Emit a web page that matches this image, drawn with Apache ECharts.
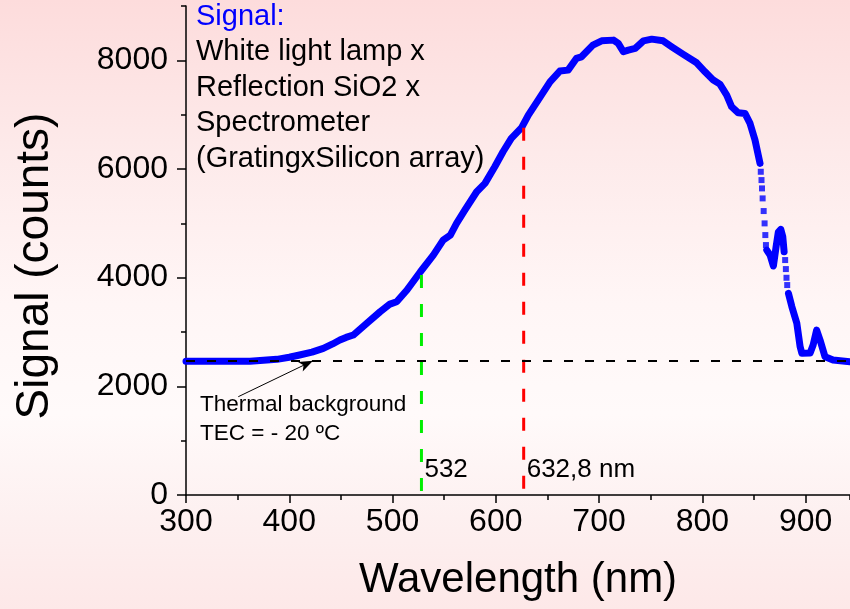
<!DOCTYPE html>
<html>
<head>
<meta charset="utf-8">
<script src="https://cdn.jsdelivr.net/npm/echarts@6/dist/echarts.min.js"></script>
<style>
  html, body { margin: 0; padding: 0; }
  #chart {
    width: 850px; height: 609px;
    background: linear-gradient(to bottom, #fddcdc 0%, #fdeaea 25%, #fff6f6 50%, #fffafa 68%, #fdf0f0 85%, #fde8e8 100%);
  }
</style>
</head>
<body>
<div id="chart"></div>
<script>
// ---- data ----
const wavelength = [300, 330, 362, 388, 400, 410, 422, 433, 442, 449, 455, 462, 475, 488, 497.5, 504, 514, 527, 539.5, 549, 556, 562, 570, 581.5, 589.5, 599, 607, 615, 625, 631.5, 641, 652.5, 662, 670, 678, 683, 694, 702.5, 714, 718.6, 723.5, 728.3, 735, 743, 751, 762, 770.4, 781.6, 794.5, 802.6, 810.6, 817, 823.6, 828.4, 834.8, 841.3, 846.2, 851, 855.9,
  null,
  862.4, 865.6, 868.8, 871.4, 873.6, 876, 877.9, 879.2,
  null,
  883.4, 886.7, 891.5, 894.7, 896.4, 904.4, 907.3, 910.7, 914, 918.8, 926.6, 943];
const signal = [2460, 2460, 2462, 2497, 2535, 2576, 2630, 2699, 2780, 2852, 2900, 2944, 3159, 3373, 3514, 3557, 3772, 4109, 4416, 4692, 4784, 4999, 5244, 5581, 5735, 6041, 6317, 6563, 6762, 6992, 7268, 7605, 7802, 7820, 8035, 8065, 8280, 8359, 8372, 8311, 8157, 8188, 8219, 8359, 8390, 8359, 8249, 8109, 7954, 7789, 7636, 7562, 7360, 7145, 7034, 7023, 6839, 6532, 6103,
  null,
  4508, 4416, 4214, 4563, 4839, 4889, 4753, 4477,
  null,
  3711, 3465, 3159, 2729, 2607, 2613, 2760, 3036, 2852, 2545, 2484, 2453];
// sparse (separated) sample points on the steep parts
const dotWavelength = [856.6, 857.3, 857.8, 858.4, 859.4, 860.3, 861.0, 861.6, 880.2, 880.9, 881.5, 882.2];
const dotSignal = [5949, 5796, 5643, 5459, 5226, 4999, 4784, 4600, 4324, 4158, 3998, 3864];

const thermalBackground = 2466;
const laserLines = [528, 627];          // positions of the green and red marker lines
const laserTops = [4050, 6760];         // where the marker lines meet the curve
const laserLabels = ['532', '632,8 nm'];
const laserColors = ['#00ee00', '#ff0000'];
const arrowFrom = [350.6, 1809];
const arrowTo = [423, 2471];

const xMin = 300, xMax = 943, yMin = 0, yMax = 9000;
const xTicks = [300, 400, 500, 600, 700, 800, 900];
const yTicks = [0, 2000, 4000, 6000, 8000];

const annotationLines = ['White light lamp x', 'Reflection SiO2 x', 'Spectrometer', '(GratingxSilicon array)'];
const thermalText = ['Thermal background', 'TEC = - 20 ºC'];

// ---- chart ----
const FONT = '"Liberation Sans", Arial, sans-serif';
const chart = echarts.init(document.getElementById('chart'), null, { renderer: 'canvas' });

const curveData = wavelength.map((w, i) => (w === null ? null : [w, signal[i]]));
const dotData = dotWavelength.map((w, i) => [w, dotSignal[i]]);

const series = [
  {
    type: 'line', data: curveData, showSymbol: false, connectNulls: false,
    lineStyle: { color: '#0000ff', width: 7, cap: 'round', join: 'round' },
    z: 3, silent: true
  },
  {
    type: 'scatter', data: dotData, symbol: 'rect', symbolSize: 6,
    itemStyle: { color: '#0000ff' }, z: 3, silent: true
  },
  {
    type: 'line', data: [[xMin, thermalBackground], [xMax, thermalBackground]], showSymbol: false,
    lineStyle: { color: '#000', width: 2, type: [9, 12] }, z: 5, silent: true,
    markLine: {
      silent: true, symbol: ['none', 'arrow'], symbolSize: [8, 14],
      label: { show: false },
      lineStyle: { color: '#000', width: 1, type: 'solid' },
      data: [[{ coord: arrowFrom }, { coord: arrowTo }]]
    }
  }
];
laserLines.forEach((x, i) => {
  series.push({
    type: 'line', data: [[x, laserTops[i]], [x, 0]], showSymbol: false,
    lineStyle: { color: laserColors[i], width: 3, type: [13, 16] }, z: 4, silent: true
  });
});

const axisLineStyle = { color: '#000', width: 1.5 };
chart.setOption({
  animation: false,
  backgroundColor: 'transparent',
  grid: { left: 186, right: 0, top: 6, bottom: 114, containLabel: false },
  xAxis: [
    {
      type: 'value', min: xMin, max: xMax, interval: 100, position: 'bottom',
      axisLine: { lineStyle: axisLineStyle },
      axisTick: { length: 8, lineStyle: { color: '#000', width: 1.5 }, customValues: xTicks },
      axisLabel: { customValues: xTicks, color: '#000', fontSize: 32, fontFamily: FONT, margin: 11,
        formatter: v => (xTicks.indexOf(v) >= 0 ? String(v) : '') },
      splitLine: { show: false },
      name: 'Wavelength (nm)', nameLocation: 'middle', nameGap: 64,
      nameTextStyle: { color: '#000', fontSize: 42, fontFamily: FONT }
    },
    {
      type: 'value', min: xMin, max: xMax, interval: 50, position: 'bottom',
      axisLine: { show: false },
      axisTick: { length: 5, lineStyle: { color: '#000', width: 1.5 } },
      axisLabel: { show: false }, splitLine: { show: false }
    }
  ],
  yAxis: [
    {
      type: 'value', min: yMin, max: yMax, interval: 2000, position: 'left',
      axisLine: { show: true, lineStyle: axisLineStyle },
      axisTick: { show: true, length: 9, lineStyle: { color: '#000', width: 1.5 }, customValues: yTicks },
      axisLabel: { customValues: yTicks, color: '#000', fontSize: 32, fontFamily: FONT, margin: 18,
        formatter: v => (yTicks.indexOf(v) >= 0 ? String(v) : '') },
      splitLine: { show: false }
    },
    {
      type: 'value', min: yMin, max: yMax, interval: 1000, position: 'left',
      axisLine: { show: false },
      axisTick: { show: true, length: 5, lineStyle: { color: '#000', width: 1.5 } },
      axisLabel: { show: false }, splitLine: { show: false }
    }
  ],
  series: series
});

// ---- text annotations ----
const graphics = [];
graphics.push({
  type: 'text', x: 35, y: 266, rotation: Math.PI / 2,
  style: { text: 'Signal (counts)', font: '46px ' + FONT, fill: '#000', align: 'center', verticalAlign: 'middle' }
});
graphics.push({
  type: 'text', x: 196, y: 16.5,
  style: { text: 'Signal:', font: '29px ' + FONT, fill: '#0000ff', align: 'left', verticalAlign: 'middle' }
});
annotationLines.forEach((t, i) => {
  graphics.push({
    type: 'text', x: 196, y: 52 + i * 35.5,
    style: { text: t, font: '29px ' + FONT, fill: '#000', align: 'left', verticalAlign: 'middle' }
  });
});
thermalText.forEach((t, i) => {
  graphics.push({
    type: 'text', x: 200, y: 405 + i * 28.5,
    style: { text: t, font: '22.5px ' + FONT, fill: '#000', align: 'left', verticalAlign: 'middle' }
  });
});
laserLines.forEach((x, i) => {
  const p = chart.convertToPixel({ xAxisIndex: 0, yAxisIndex: 0 }, [x, 0]);
  graphics.push({
    type: 'text', x: p[0] + 3, y: 470,
    style: { text: laserLabels[i], font: '26px ' + FONT, fill: '#000', align: 'left', verticalAlign: 'middle' }
  });
});
chart.setOption({ graphic: graphics });
</script>
</body>
</html>
